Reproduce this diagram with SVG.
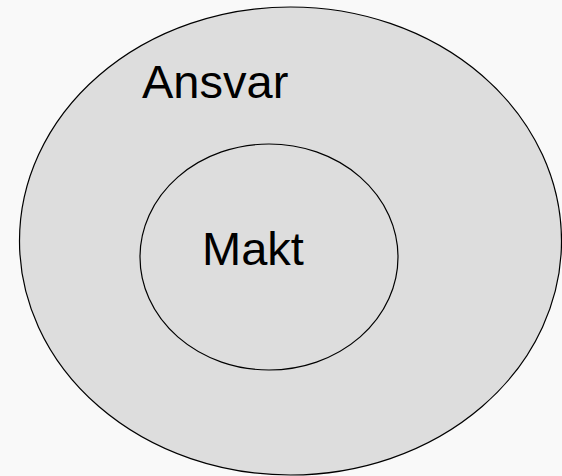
<svg xmlns="http://www.w3.org/2000/svg" width="562" height="476" viewBox="0 0 562 476">
<style>
.shape{fill:#dddddd;stroke:#000;stroke-width:1.2}
.lbl{font-family:"Liberation Sans",Arial,sans-serif;font-size:47px;fill:#000}
</style>
<rect width="562" height="476" fill="#f9f9f9"/>
<g id="ansvar">
<ellipse class="shape" cx="290.5" cy="241" rx="271" ry="234"/>
<text class="lbl" x="142" y="98">Ansvar</text>
</g>
<g id="makt">
<ellipse class="shape" cx="269" cy="257" rx="129" ry="113"/>
<text class="lbl" x="202" y="265">Makt</text>
</g>
<g id="connectors"/>
</svg>
